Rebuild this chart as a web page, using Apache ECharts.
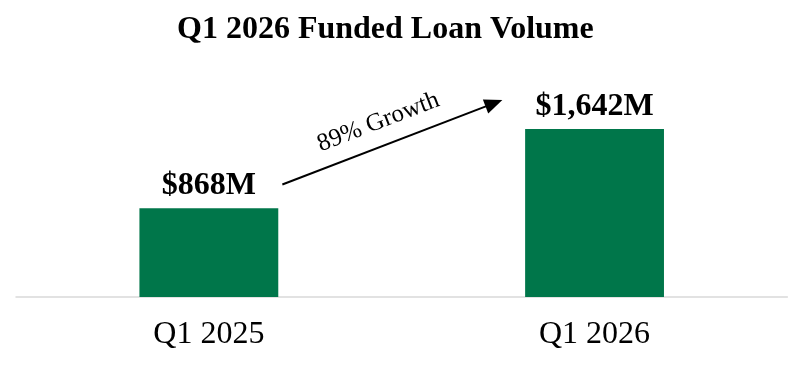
<!DOCTYPE html>
<html>
<head>
<meta charset="utf-8">
<script src="https://cdn.jsdelivr.net/npm/echarts@6/dist/echarts.min.js"></script>
<style>html,body{margin:0;padding:0;background:#fff}#c{width:800px;height:377px}</style>
</head>
<body>
<div id="c"></div>
<script>
var categories = ['Q1 2025', 'Q1 2026'];
var values = [868, 1642];
var valueLabels = ['$868M', '$1,642M'];
var growthLabel = '89% Growth';
var titleText = 'Q1 2026 Funded Loan Volume';

var FONT = '"Liberation Serif", "Times New Roman", serif';
var chart = echarts.init(document.getElementById('c'));
chart.setOption({
  animation: false,
  backgroundColor: '#fff',
  title: {
    text: titleText,
    left: 172, top: 9,
    textStyle: { fontFamily: FONT, fontSize: 32, fontWeight: 'bold', color: '#000' }
  },
  grid: { left: 16, right: 12.6, top: 92.4, bottom: 80, containLabel: false },
  xAxis: {
    type: 'category',
    data: categories,
    axisLine: { lineStyle: { color: '#d9d9d9', width: 1.5 } },
    axisTick: { show: false },
    axisLabel: { fontFamily: FONT, fontSize: 32, color: '#000', margin: 22 }
  },
  yAxis: { type: 'value', min: 0, max: 2000, show: false, splitLine: { show: false } },
  series: [{
    type: 'bar',
    data: values,
    barWidth: '36%',
    itemStyle: { color: '#00764A' },
    label: {
      show: true, position: 'top', distance: 6,
      fontFamily: FONT, fontSize: 32, fontWeight: 'bold', color: '#000',
      formatter: function (p) { return valueLabels[p.dataIndex]; }
    }
  }]
});

var p0 = chart.convertToPixel({ seriesIndex: 0 }, [0, values[0]]);
var p1 = chart.convertToPixel({ seriesIndex: 0 }, [1, values[1]]);
var tail = [p0[0] + 73.5, p0[1] - 23.7];
var tip = [p1[0] - 92.2, p1[1] - 29];
var ang = Math.atan2(tip[1] - tail[1], tip[0] - tail[0]);
var hl = 18, hw = 7.5;
var base = [tip[0] - hl * Math.cos(ang), tip[1] - hl * Math.sin(ang)];
var nx = -Math.sin(ang), ny = Math.cos(ang);
var mid = [(tail[0] + tip[0]) / 2, (tail[1] + tip[1]) / 2];
chart.setOption({
  graphic: [
    { type: 'line', shape: { x1: tail[0], y1: tail[1], x2: base[0] + Math.cos(ang), y2: base[1] + Math.sin(ang) }, style: { stroke: '#000', lineWidth: 2 } },
    { type: 'polygon', shape: { points: [tip, [base[0] + nx * hw, base[1] + ny * hw], [base[0] - nx * hw, base[1] - ny * hw]] }, style: { fill: '#000' } },
    { type: 'text', x: mid[0] - 14, y: mid[1] - 20, rotation: -ang,
      style: { text: growthLabel, font: '25px ' + FONT, fill: '#000', align: 'center', verticalAlign: 'middle' } }
  ]
});
</script>
</body>
</html>
